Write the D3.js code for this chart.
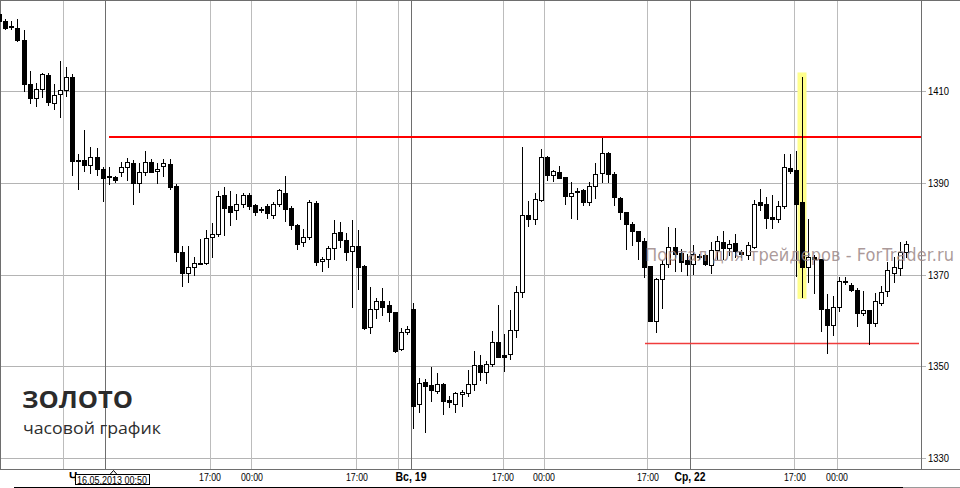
<!DOCTYPE html>
<html><head><meta charset="utf-8">
<script src="https://cdn.jsdelivr.net/npm/d3@7/dist/d3.min.js"></script>
<style>body{margin:0;background:#fff}svg{display:block}</style>
</head><body><svg id="c" width="960" height="488"></svg>
<script>
// ---- data (hourly gold candles) ----
const open = [1426.9,1425.5,1424.4,1423.9,1421.3,1411.7,1408.7,1410.6,1413.6,1407.6,
1409.4,1410.3,1413.2,1395.1,1395.1,1393.9,1395.7,1393.1,1391.5,1391.3,
1392.4,1393.5,1394.4,1390.1,1392.4,1394.6,1392.6,1393.7,1394.2,1389.4,
1375.0,1370.5,1371.7,1372.7,1372.7,1378.2,1378.9,1387.5,1385.1,1384.1,
1385.5,1387.5,1385.3,1384.4,1385.1,1383.2,1385.5,1388.0,1384.6,1380.9,
1377.1,1378.2,1385.7,1373.0,1373.6,1375.8,1379.4,1377.6,1375.2,1376.3,
1372.0,1358.6,1362.5,1364.3,1363.5,1361.9,1353.8,1357.5,1362.5,1341.8,
1346.6,1345.9,1344.6,1346.2,1342.8,1341.8,1344.1,1344.3,1346.2,1350.3,
1348.9,1350.5,1355.3,1352.6,1352.7,1357.9,1366.2,1383.1,1382.2,1386.4,
1395.8,1391.8,1392.4,1391.3,1387.2,1388.3,1388.5,1385.9,1389.4,1392.2,
1396.6,1392.0,1386.7,1383.7,1381.1,1379.5,1377.4,1372.0,1360.0,1369.1,
1372.3,1376.2,1374.8,1373.3,1372.3,1374.0,1374.4,1372.2,1375.5,1377.2,
1376.0,1377.0,1375.0,1374.4,1376.2,1385.9,1385.5,1382.7,1382.3,1385.1,
1393.3,1392.9,1385.9,1371.7,1373.9,1373.6,1362.5,1359.1,1363.1,1368.7,
1367.8,1366.7,1361.7,1362.4,1359.6,1363.8,1366.4,1370.4,1371.5,1375.0];
const high = [1427.2,1425.9,1425.5,1425.9,1423.5,1414.5,1411.8,1414.1,1414.1,1411.7,
1416.7,1415.3,1413.9,1396.3,1401.6,1397.9,1397.8,1393.5,1393.5,1391.5,
1394.6,1395.5,1395.0,1394.4,1397.1,1395.3,1394.4,1395.3,1395.3,1389.9,
1376.3,1376.3,1374.0,1377.9,1379.8,1381.4,1388.4,1389.1,1388.4,1387.7,
1387.9,1387.9,1385.5,1384.8,1385.6,1386.0,1388.7,1391.5,1385.1,1381.1,
1380.1,1386.4,1386.2,1373.9,1376.3,1382.0,1381.6,1379.1,1381.9,1379.8,
1372.2,1367.4,1365.0,1367.2,1364.3,1362.0,1358.4,1358.9,1363.9,1347.6,
1347.2,1349.9,1348.6,1346.4,1343.5,1344.5,1344.8,1349.3,1353.4,1352.5,
1351.2,1357.7,1363.5,1357.1,1362.4,1367.5,1398.0,1386.2,1388.0,1397.5,
1396.0,1392.9,1393.8,1391.4,1390.4,1388.9,1388.7,1390.2,1394.4,1400.0,
1396.8,1392.4,1387.0,1383.8,1381.6,1379.6,1378.1,1372.0,1369.3,1373.2,
1380.5,1380.2,1375.6,1374.5,1376.5,1374.5,1374.5,1377.1,1378.5,1379.6,
1377.6,1379.0,1375.5,1377.3,1386.4,1388.7,1387.0,1387.5,1386.2,1396.3,
1396.3,1397.1,1413.3,1382.2,1374.4,1373.6,1365.9,1365.5,1369.6,1369.6,
1368.3,1367.1,1366.5,1362.4,1366.0,1367.5,1372.8,1374.0,1377.3,1377.4];
const low = [1425.4,1423.7,1423.7,1421.1,1410.2,1407.6,1406.9,1408.9,1407.2,1406.3,
1404.5,1409.1,1391.9,1388.8,1392.8,1392.3,1391.9,1386.2,1389.9,1390.2,
1391.5,1390.7,1385.4,1388.2,1391.8,1392.4,1390.0,1391.7,1388.7,1373.1,
1367.7,1368.5,1369.9,1372.4,1372.5,1373.9,1378.5,1378.7,1381.0,1382.3,
1384.8,1384.3,1383.2,1383.7,1382.5,1382.5,1385.1,1381.7,1380.0,1375.7,
1376.4,1377.8,1372.2,1370.8,1371.7,1373.5,1376.1,1373.2,1363.1,1366.9,
1358.2,1357.3,1360.6,1361.3,1360.0,1353.3,1353.6,1357.1,1336.7,1340.0,
1335.8,1342.6,1344.3,1339.7,1341.1,1340.0,1341.5,1343.5,1345.0,1347.0,
1346.4,1350.2,1352.1,1349.1,1351.7,1356.5,1365.1,1380.7,1381.1,1386.2,
1390.8,1390.5,1391.1,1385.6,1382.5,1382.2,1385.3,1385.3,1386.7,1390.3,
1390.4,1385.2,1382.3,1375.7,1376.5,1373.4,1369.6,1359.9,1357.6,1362.8,
1371.8,1370.9,1370.9,1370.0,1370.2,1373.5,1372.2,1370.4,1373.6,1373.6,
1374.4,1374.0,1374.0,1373.4,1376.0,1384.2,1380.2,1380.2,1381.5,1384.6,
1392.2,1369.8,1365.1,1368.5,1366.1,1357.8,1352.9,1356.8,1362.2,1368.0,
1366.4,1358.9,1361.3,1354.9,1358.9,1363.5,1365.5,1368.5,1370.0,1374.0];
const close = [1425.5,1423.9,1424.3,1421.3,1411.7,1408.7,1410.6,1413.9,1407.8,1409.2,
1410.4,1413.1,1394.9,1395.0,1394.1,1395.7,1393.1,1391.2,1391.4,1390.8,
1393.5,1394.6,1390.1,1392.4,1394.6,1392.5,1393.1,1394.4,1389.3,1375.1,
1370.5,1371.7,1372.6,1372.6,1378.0,1379.0,1387.2,1384.7,1383.8,1385.5,
1387.5,1385.0,1383.8,1384.3,1383.5,1385.5,1388.5,1384.3,1381.0,1376.8,
1378.4,1385.9,1372.9,1373.4,1376.0,1379.1,1377.6,1375.1,1376.3,1371.8,
1358.4,1362.5,1364.3,1363.1,1362.0,1353.4,1357.5,1358.2,1341.5,1346.4,
1345.8,1344.8,1346.2,1342.6,1342.2,1344.2,1344.5,1346.2,1350.3,1348.9,
1350.5,1355.3,1352.2,1352.2,1357.9,1366.2,1383.0,1382.2,1386.5,1395.7,
1391.8,1392.6,1391.2,1387.2,1388.0,1388.4,1385.9,1389.4,1392.0,1396.6,
1392.0,1387.0,1383.7,1381.2,1379.5,1377.5,1371.8,1360.0,1369.1,1372.3,
1376.1,1374.6,1372.9,1372.3,1374.5,1374.1,1372.3,1375.5,1377.4,1376.0,
1376.8,1375.2,1374.5,1376.5,1385.6,1385.3,1382.5,1382.3,1385.1,1393.5,
1392.8,1385.5,1371.7,1374.0,1373.6,1362.5,1359.1,1363.1,1368.7,1368.6,
1366.7,1361.7,1362.4,1359.6,1364.3,1366.2,1371.1,1371.7,1375.0,1376.8];

const priceTicks = [1330, 1350, 1370, 1390, 1410];
// vertical grid positions (in candle index units) and whether they mark a day
const gridIdx  = [10.65, 17.55, 34.65, 41.55, 58.81, 65.71, 67.69, 82.81, 89.55, 106.64, 113.55, 130.8, 137.71];
const gridDark = [false, true, false, false, false, false, true, false, false, false, true, false, false];
const timeLabelIdx = [34.65, 41.55, 58.81, 67.69, 82.81, 89.55, 106.64, 113.55, 130.8, 137.71];
const timeLabels   = ["17:00","00:00","17:00","Вс, 19","17:00","00:00","17:00","Ср, 22","17:00","00:00"];
const resistance = 1400.2, support = 1355.1;
const highlightIdx = 132, highlightRange = [1364.8, 1414.2];

const W = 960, H = 488, plotR = 921, plotB = 469;
const svg = d3.select("#c");
const x = d3.scaleLinear().domain([0, 149]).range([-0.8, 905.7]);
const y = d3.scaleLinear().domain([1330, 1410]).range([458.3, 91.7]);
const px = v => Math.floor(v) + 0.5;

svg.append("rect").attr("width", W).attr("height", H).attr("fill", "#fff");
svg.append("defs").append("clipPath").attr("id","pc").append("rect")
  .attr("x",0).attr("y",0).attr("width",plotR).attr("height",plotB);

// grid
const g = svg.append("g");
g.selectAll("line.hg").data(priceTicks).join("line")
  .attr("x1", 0).attr("x2", plotR + 5)
  .attr("y1", d => px(y(d))).attr("y2", d => px(y(d)))
  .attr("stroke", "#b4b4b4").attr("stroke-width", 1);
g.selectAll("line.vg").data(gridIdx).join("line")
  .attr("x1", d => px(x(d))).attr("x2", d => px(x(d)))
  .attr("y1", 0).attr("y2", plotB)
  .attr("stroke", (d, i) => gridDark[i] ? "#6e6e6e" : "#bcbcbc").attr("stroke-width", 1);

// borders / axis lines
svg.append("line").attr("x1",0).attr("x2",W).attr("y1",0.5).attr("y2",0.5).attr("stroke","#6e6e6e");
svg.append("line").attr("x1",0.5).attr("x2",0.5).attr("y1",0).attr("y2",plotB).attr("stroke","#6e6e6e");
svg.append("line").attr("x1",0).attr("x2",W).attr("y1",plotB+0.5).attr("y2",plotB+0.5).attr("stroke","#6e6e6e");
svg.append("line").attr("x1",plotR+0.5).attr("x2",plotR+0.5).attr("y1",0).attr("y2",plotB).attr("stroke","#6e6e6e");
svg.append("line").attr("x1",14).attr("x2",903).attr("y1",487.5).attr("y2",487.5).attr("stroke","#000");
svg.append("line").attr("x1",903).attr("x2",W).attr("y1",487.5).attr("y2",487.5).attr("stroke","#9a9a9a");

// right axis labels
svg.append("g").selectAll("text").data(priceTicks).join("text")
  .attr("x", 928).attr("y", d => px(y(d)))
  .attr("dy", "0.36em")
  .attr("font-family", "Liberation Sans, Arial, sans-serif").attr("font-size", 11)
  .attr("textLength", 21).attr("lengthAdjust", "spacingAndGlyphs")
  .attr("fill", "#000").text(d => d);

// plot content
const plot = svg.append("g").attr("clip-path", "url(#pc)");

// yellow highlight
plot.append("rect")
  .attr("x", Math.round(x(highlightIdx)) - 4.5).attr("width", 9)
  .attr("y", y(highlightRange[1])).attr("height", y(highlightRange[0]) - y(highlightRange[1]))
  .attr("fill", "#ffff8c");

// red lines
plot.append("line").attr("x1", x(18.05)).attr("x2", plotR)
  .attr("y1", Math.round(y(resistance))).attr("y2", Math.round(y(resistance)))
  .attr("stroke", "#ff0000").attr("stroke-width", 2);
plot.append("line").attr("x1", x(106.15)).attr("x2", plotR - 2)
  .attr("y1", Math.round(y(support)) + 0.5).attr("y2", Math.round(y(support)) + 0.5)
  .attr("stroke", "#f03c3c").attr("stroke-width", 1.3);

// candles
const idx = d3.range(open.length);
const cg = plot.append("g");
cg.selectAll("line.w").data(idx).join("line")
  .attr("x1", i => Math.round(x(i)) + 0.5).attr("x2", i => Math.round(x(i)) + 0.5)
  .attr("y1", i => Math.round(y(high[i]))).attr("y2", i => Math.round(y(low[i])) + 1)
  .attr("stroke", "#000").attr("stroke-width", 1);
cg.selectAll("rect.b").data(idx).join("rect")
  .each(function (i) {
    const cx = Math.round(x(i));
    const top = Math.round(y(Math.max(open[i], close[i])));
    const bot = Math.round(y(Math.min(open[i], close[i])));
    const sel = d3.select(this);
    if (close[i] > open[i]) {
      sel.attr("x", cx - 1.5).attr("y", top + 0.5).attr("width", 4)
        .attr("height", Math.max(1, bot - top)).attr("fill", "#fff")
        .attr("stroke", "#000").attr("stroke-width", 1);
    } else {
      sel.attr("x", cx - 2).attr("y", top).attr("width", 5)
        .attr("height", Math.max(2, bot - top + 1)).attr("fill", "#000");
    }
  });

// watermark
svg.append("text").attr("x", 645).attr("y", 261)
  .attr("font-family", "DejaVu Sans, sans-serif").attr("font-size", 17)
  .attr("textLength", 309).attr("lengthAdjust", "spacingAndGlyphs")
  .attr("fill", "#9c8888").attr("fill-opacity", 0.85)
  .text("Портал для трейдеров - ForTrader.ru");

// title
svg.append("text").attr("x", 22).attr("y", 407.5)
  .attr("font-family", "Open Sans, sans-serif").attr("font-weight", 700).attr("font-size", 23)
  .attr("textLength", 111).attr("lengthAdjust", "spacingAndGlyphs")
  .attr("fill", "#2b2b2b").text("ЗОЛОТО");
svg.append("text").attr("x", 23).attr("y", 433.5)
  .attr("font-family", "Open Sans, sans-serif").attr("font-size", 17)
  .attr("textLength", 138).attr("lengthAdjust", "spacingAndGlyphs")
  .attr("fill", "#2e2e2e").text("часовой график");

// bottom time labels
svg.append("g").selectAll("text").data(timeLabelIdx).join("text")
  .attr("x", d => x(d)).attr("y", 480.5).attr("text-anchor", "middle")
  .attr("font-family", "Liberation Sans, Arial, sans-serif")
  .attr("font-size", (d, i) => timeLabels[i].includes(",") ? 12 : 11)
  .attr("font-weight", (d, i) => timeLabels[i].includes(",") ? 700 : 400)
  .attr("textLength", (d, i) => timeLabels[i].includes(",") ? 31 : 22)
  .attr("lengthAdjust", "spacingAndGlyphs")
  .attr("fill", "#000").text((d, i) => timeLabels[i]);

// partially hidden day label + cursor tooltip
svg.append("text").attr("x", 69).attr("y", 480.5)
  .attr("font-family", "Liberation Sans, Arial, sans-serif").attr("font-size", 12).attr("font-weight", 700)
  .attr("fill", "#000").text("Ч");
svg.append("path").attr("d", "M109.5,475 L113.5,470.5 L117.5,475").attr("fill", "#fff").attr("stroke", "#000");
svg.append("rect").attr("x", 75.5).attr("y", 474.5).attr("width", 74).attr("height", 10)
  .attr("fill", "#fff").attr("stroke", "#000");
svg.append("text").attr("x", 77).attr("y", 483.5)
  .attr("font-family", "Liberation Sans, Arial, sans-serif").attr("font-size", 11)
  .attr("textLength", 70).attr("lengthAdjust", "spacingAndGlyphs")
  .attr("fill", "#000").text("16.05.2013 00:50");
</script></body></html>
